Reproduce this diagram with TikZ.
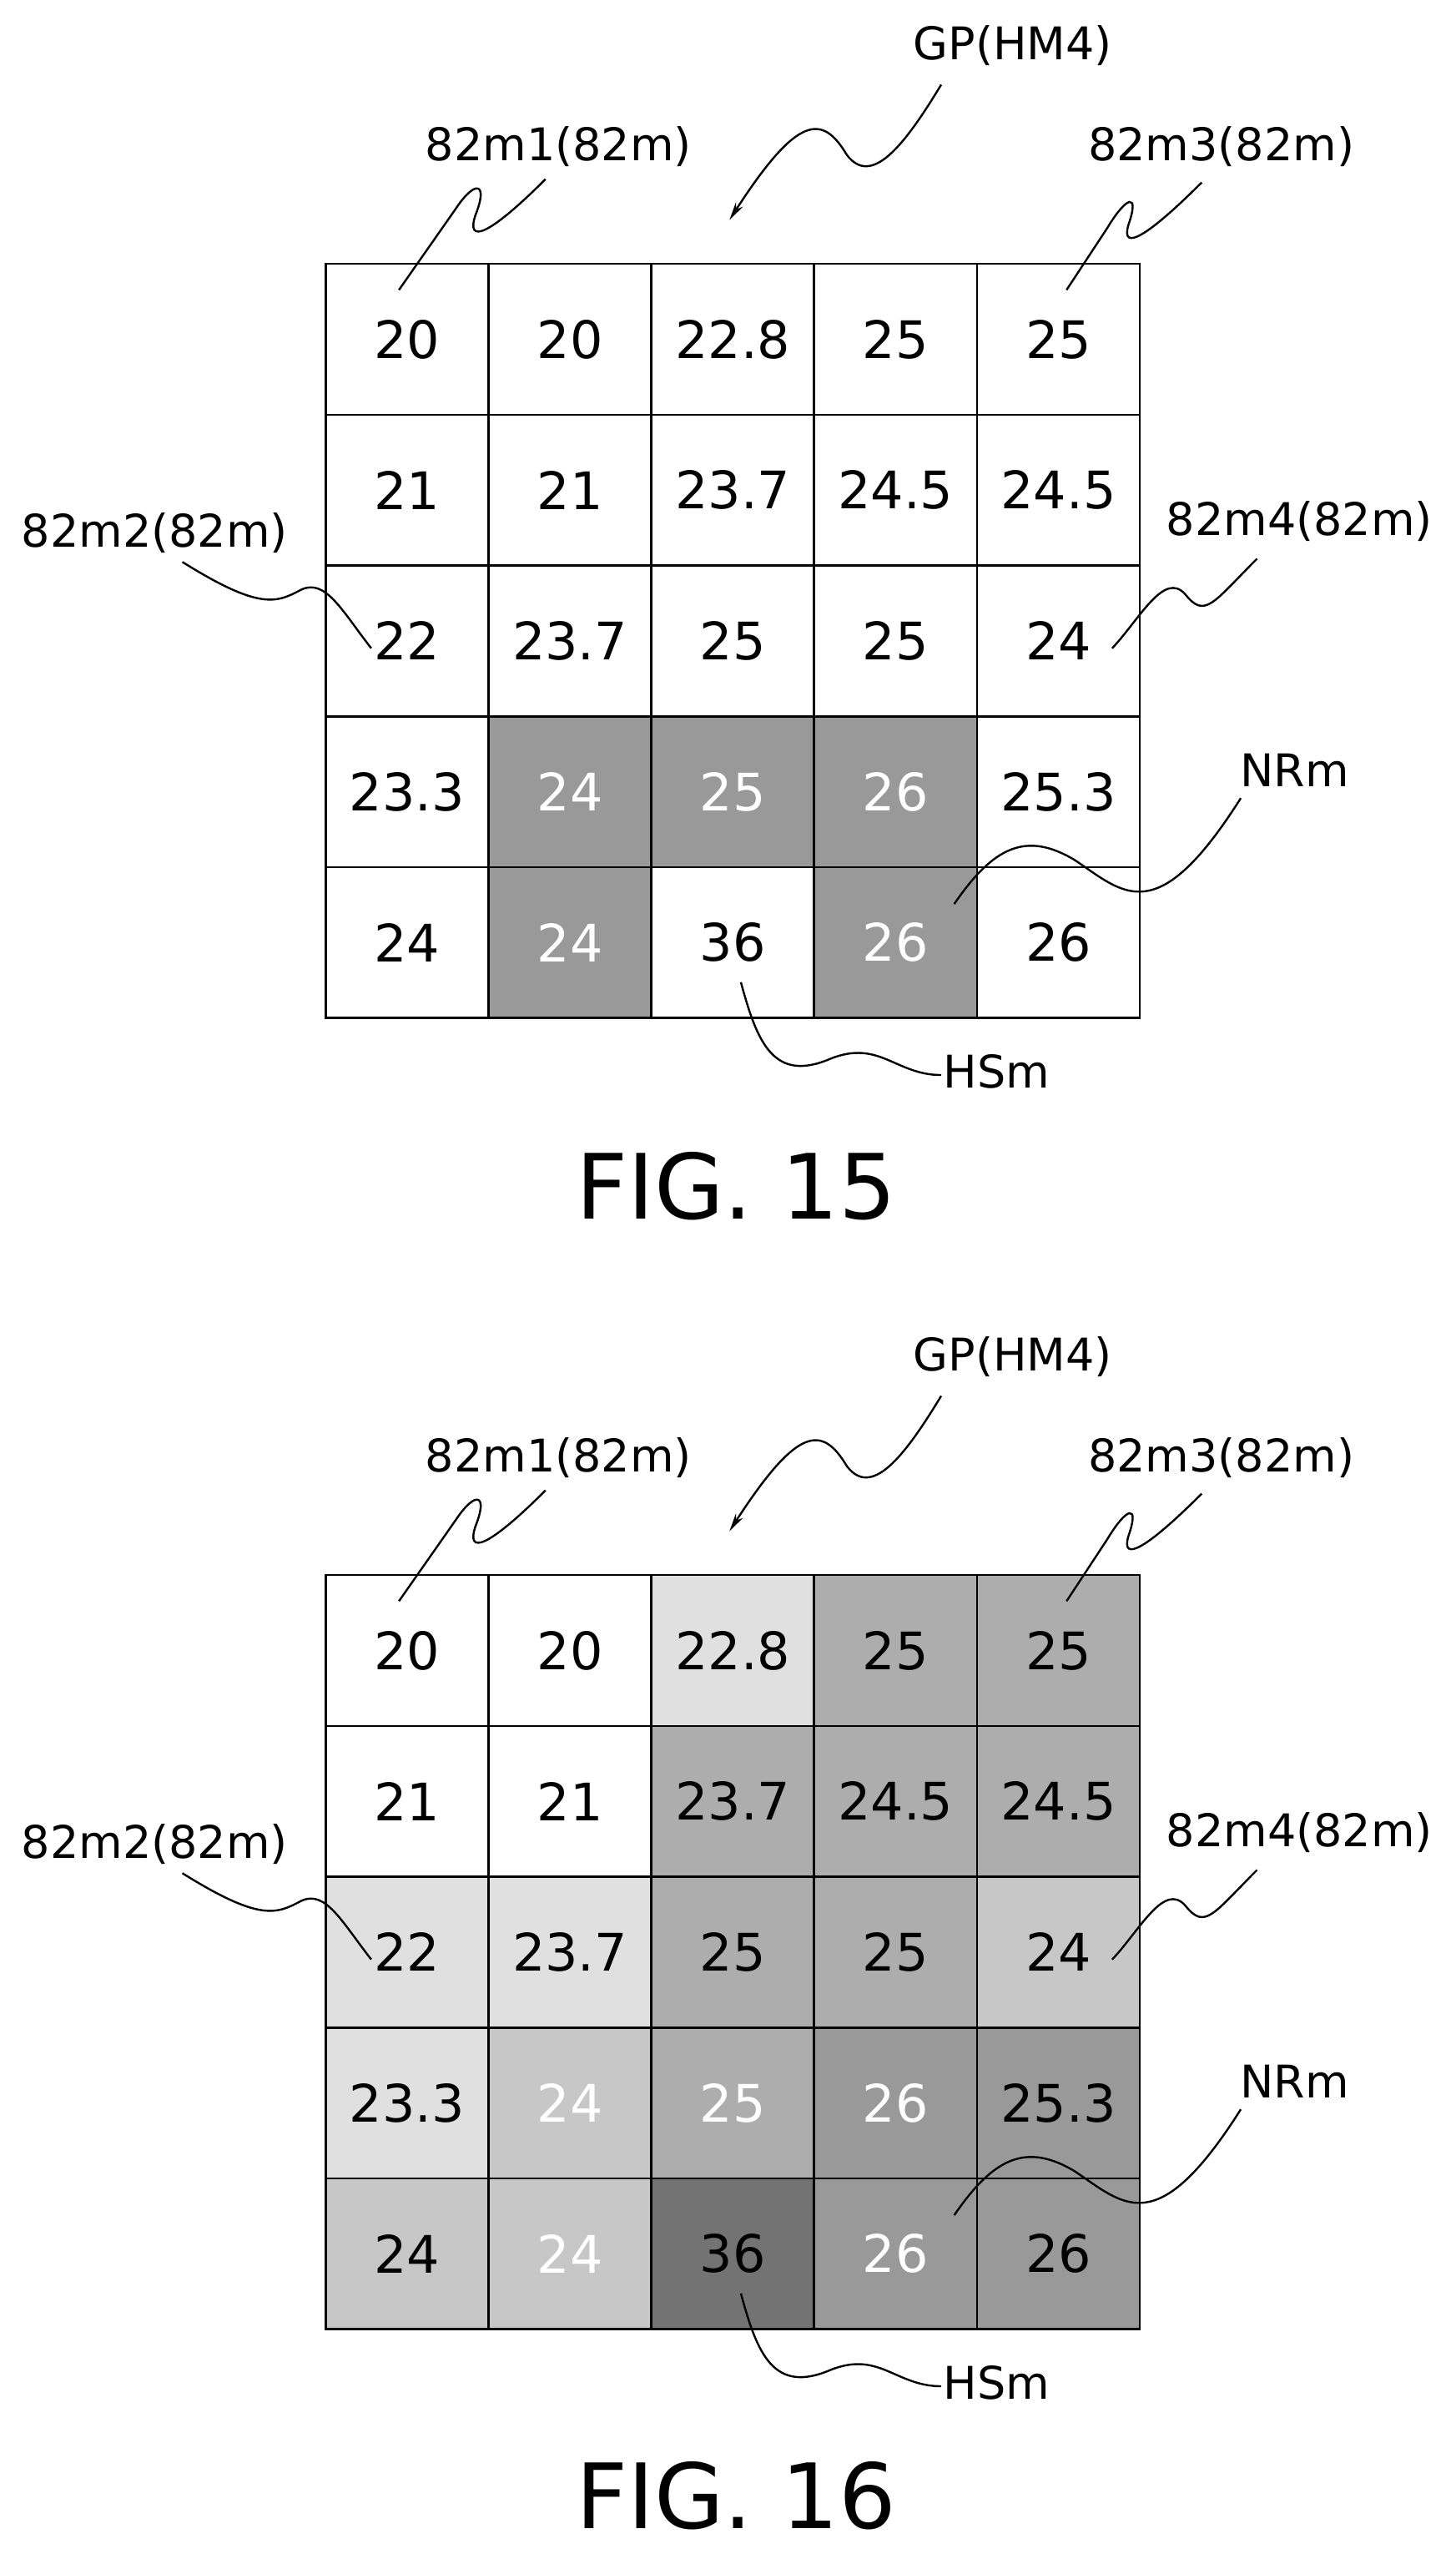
\documentclass[tikz,border=0pt]{standalone}
\usepackage{fontspec}
\setmainfont{DejaVu Sans}
\usetikzlibrary{arrows.meta}
\definecolor{lv0}{gray}{1}
\definecolor{lv1}{gray}{0.88}
\definecolor{lv2}{gray}{0.78}
\definecolor{lv3}{gray}{0.68}
\definecolor{lv4}{gray}{0.60}
\definecolor{lv5}{gray}{0.45}
\tikzset{
  cell/.style = {draw=black,line width=2.6pt,minimum width=195.2pt,minimum height=180.8pt,inner sep=0pt,font=\fontsize{62}{70}\selectfont},
  tag/.style = {font=\fontsize{54}{60}\selectfont,inner sep=2pt},
  figname/.style = {font=\fontsize{108}{112}\selectfont},
  lead/.style = {line width=2.4pt,black},
  arr/.style = {lead,-{Stealth[length=22pt,width=10pt]}},
}
\begin{document}
\begin{tikzpicture}[x=1.952pt,y=-1.952pt]
  \useasboundingbox (0,0) rectangle (894,1568);

  % cells, fig 15
  \foreach \c/\r/\v/\f/\t in {1/1/20/lv0/black,2/1/20/lv0/black,3/1/22.8/lv0/black,4/1/25/lv0/black,5/1/25/lv0/black,
      1/2/21/lv0/black,2/2/21/lv0/black,3/2/23.7/lv0/black,4/2/24.5/lv0/black,5/2/24.5/lv0/black,
      1/3/22/lv0/black,2/3/23.7/lv0/black,3/3/25/lv0/black,4/3/25/lv0/black,5/3/24/lv0/black,
      1/4/23.3/lv0/black,2/4/24/lv4/white,3/4/25/lv4/white,4/4/26/lv4/white,5/4/25.3/lv0/black,
      1/5/24/lv0/black,2/5/24/lv4/white,3/5/36/lv0/black,4/5/26/lv4/white,5/5/26/lv0/black}
    \node[cell,fill=\f,text=\t] (a\c\r) at (150+100*\c,115.7+92.6*\r) {\v};

  % cells, fig 16
  \foreach \c/\r/\v/\f/\t in {1/1/20/lv0/black,2/1/20/lv0/black,3/1/22.8/lv1/black,4/1/25/lv3/black,5/1/25/lv3/black,
      1/2/21/lv0/black,2/2/21/lv0/black,3/2/23.7/lv3/black,4/2/24.5/lv3/black,5/2/24.5/lv3/black,
      1/3/22/lv1/black,2/3/23.7/lv1/black,3/3/25/lv3/black,4/3/25/lv3/black,5/3/24/lv2/black,
      1/4/23.3/lv1/black,2/4/24/lv2/white,3/4/25/lv3/white,4/4/26/lv4/white,5/4/25.3/lv4/black,
      1/5/24/lv2/black,2/5/24/lv2/white,3/5/36/lv5/black,4/5/26/lv4/white,5/5/26/lv4/black}
    \node[cell,fill=\f,text=\t] (b\c\r) at (150+100*\c,920.7+92.6*\r) {\v};

  \node[figname] (fig15) at (452,728) {FIG. 15};
  \node[figname] (fig16) at (452,1532) {FIG. 16};

  % reference signs and leaders
  \foreach \p/\dy in {a/0,b/805} {
    \node[tag] (\p m1) at (343,90+\dy) {82m1(82m)};
    \node[tag] (\p gp) at (622,28+\dy) {GP(HM4)};
    \node[tag] (\p m3) at (750,90+\dy) {82m3(82m)};
    \node[tag] (\p m2) at (95,327+\dy) {82m2(82m)};
    \node[tag] (\p m4) at (798,320+\dy) {82m4(82m)};
    \node[tag] (\p nr) at (795,473+\dy) {NRm};
    \node[tag] (\p hs) at (612,658+\dy) {HSm};

    \draw[lead] (245,178+\dy) -- (280,128+\dy) .. controls (292,110+\dy) and (300,112+\dy) .. (292,132+\dy)
      .. controls (286,150+\dy) and (300,145+\dy) .. (335,110+\dy);
    \draw[arr] (578,52+\dy) .. controls (555,90+\dy) and (535,115+\dy) .. (520,95+\dy)
      .. controls (505,70+\dy) and (490,70+\dy) .. (448,135+\dy);
    \draw[lead] (655,178+\dy) -- (680,140+\dy) .. controls (692,120+\dy) and (700,118+\dy) .. (693,138+\dy)
      .. controls (688,155+\dy) and (705,145+\dy) .. (738,112+\dy);
    \draw[lead] (228,398+\dy) .. controls (210,375+\dy) and (200,355+\dy) .. (185,362+\dy)
      .. controls (170,370+\dy) and (160,375+\dy) .. (112,345+\dy);
    \draw[lead] (683,398+\dy) .. controls (700,380+\dy) and (715,350+\dy) .. (728,365+\dy)
      .. controls (740,380+\dy) and (745,370+\dy) .. (772,343+\dy);
    \draw[lead] (586,555+\dy) .. controls (610,520+\dy) and (630,510+\dy) .. (660,528+\dy)
      .. controls (690,548+\dy) and (710,572+\dy) .. (762,490+\dy);
    \draw[lead] (455,603+\dy) .. controls (465,640+\dy) and (475,665+\dy) .. (510,650+\dy)
      .. controls (540,638+\dy) and (550,660+\dy) .. (578,660+\dy);
  }
\end{tikzpicture}
\end{document}
